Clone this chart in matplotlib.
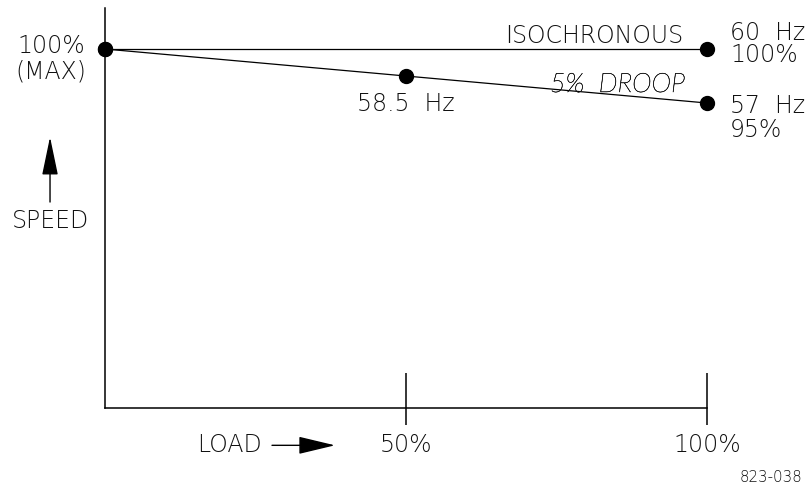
import os
import matplotlib
matplotlib.use("Agg")
import matplotlib.pyplot as plt
import matplotlib.patheffects as pe
from matplotlib import font_manager

# speed vs load, isochronous and 5% droop
load_pts = [0, 50, 100]
droop_speed = [100, 97.5, 95]
iso_load = [0, 100]
iso_speed = [100, 100]
load_ticks = [50, 100]
load_tick_labels = ["50%", "100%"]

INK = "#111111"
FONT = dict(family="DejaVu Sans", fontweight="light", fontsize=17, color=INK)


def thin_italic():
    # DejaVu has no light oblique, so take a thin italic face and thicken it a bit
    for fam in ["Lato", "Roboto", "Open Sans", "Noto Sans", "Inter"]:
        fp = font_manager.FontProperties(family=fam, style="italic", weight="light")
        try:
            path = font_manager.findfont(fp, fallback_to_default=False)
        except Exception:
            continue
        name = os.path.basename(path).lower()
        if "italic" in name and any(s in name for s in ["light", "thin", "hair"]):
            return dict(family=fam, fontstyle="italic", fontweight="light",
                        path_effects=[pe.withStroke(linewidth=0.3, foreground=INK)])
    return dict(family="DejaVu Sans", fontstyle="oblique", fontweight="light")


fig = plt.figure(figsize=(8.09, 4.87), dpi=100)
ax = fig.add_axes([0, 0, 1, 1])
ax.set_xlim(-17.44, 116.94)
ax.set_ylim(59.44, 104.54)
ax.set_axis_off()

floor = 66.76
top = 103.8

# frame: vertical speed axis, horizontal load axis, tick marks
ax.plot([0, 0], [floor, top], color="black", lw=1.1)
ax.plot([0, 100], [floor, floor], color="black", lw=1.1)
ax.vlines(load_ticks, 65.2, 70.0, color="black", lw=1.1)
for x, lab in zip(load_ticks, load_tick_labels):
    ax.text(x, 63.3, lab, ha="center", va="center", **FONT)

# the two curves
ax.plot(iso_load, iso_speed, color="black", lw=0.9, marker="o", ms=10)
ax.plot(load_pts, droop_speed, color="black", lw=0.9, marker="o", ms=10)


def note(txt, xy, dx, dy, ha="left", **kw):
    style = dict(FONT)
    style.update(kw)
    return ax.annotate(txt, xy=xy, xytext=(dx, dy), textcoords="offset pixels",
                       ha=ha, va="baseline", **style)


note("100%", (0, 100), -54, -4, ha="center")
note("(MAX)", (0, 100), -54, -29, ha="center")
note("58.5  Hz", (50, 97.5), 0, -35, ha="center")
note("ISOCHRONOUS", (100, 100), -24, 6, ha="right")
droop_lbl = note("5%  DROOP", (100, 95), -22, 11, ha="right", **thin_italic())
note("60  Hz", (100, 100), 23, 9)
note("100%", (100, 100), 23, -13)
note("57  Hz", (100, 95), 23, -10)
note("95%", (100, 95), 23, -34)

# SPEED label with up arrow
ax.text(-8.97, 84.07, "SPEED", ha="center", va="center", **FONT)
ax.annotate("", xy=(-9.13, 91.85), xytext=(-9.13, 85.83),
            arrowprops=dict(arrowstyle="-|>,head_length=2.4,head_width=0.5",
                            color="black", lw=1.0, mutation_scale=10,
                            shrinkA=0, shrinkB=0))

# LOAD label with right arrow
ax.text(20.76, 63.3, "LOAD", ha="center", va="center", **FONT)
ax.annotate("", xy=(38.2, 63.3), xytext=(27.74, 63.3),
            arrowprops=dict(arrowstyle="-|>,head_length=2.3,head_width=0.55",
                            color="black", lw=1.0, mutation_scale=10,
                            shrinkA=0, shrinkB=0))

fig.text(802 / 809, 1 - 482 / 487, "823-038", ha="right", va="baseline",
         family="DejaVu Sans", fontweight="light", fontsize=10.8, color=INK)

# the italic face has other proportions: size it to span about 135 px
renderer = fig.canvas.get_renderer()
w = droop_lbl.get_window_extent(renderer).width
droop_lbl.set_fontsize(droop_lbl.get_fontsize() * 135 / w)

fig.savefig("out.png", dpi=100)
